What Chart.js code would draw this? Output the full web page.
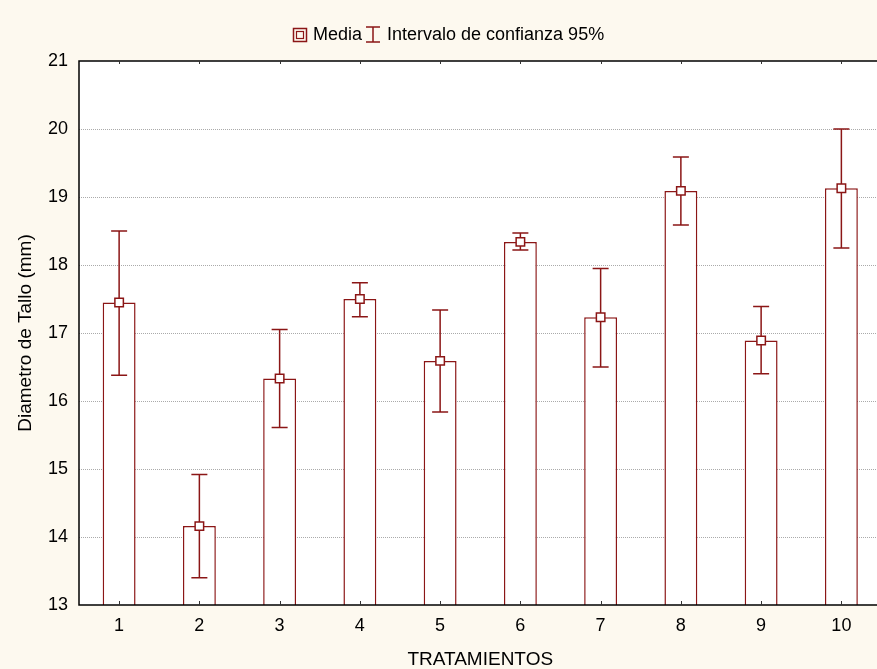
<!DOCTYPE html>
<html>
<head>
<meta charset="utf-8">
<script src="https://cdn.jsdelivr.net/npm/chart.js@4/dist/chart.umd.min.js"></script>
<style>
  html, body { margin: 0; padding: 0; overflow: hidden; background: #fdf9ef; }
  canvas { display: block; }
</style>
</head>
<body>
<canvas id="chart" width="889" height="669"></canvas>
<script>
// Data
const categories = ['1', '2', '3', '4', '5', '6', '7', '8', '9', '10'];
const means = [17.45, 14.16, 16.33, 17.50, 16.59, 18.34, 17.23, 19.09, 16.89, 19.13];
const ciLow = [16.38, 13.40, 15.61, 17.24, 15.84, 18.22, 16.50, 18.59, 16.40, 18.25];
const ciHigh = [18.50, 14.92, 17.05, 17.74, 17.34, 18.47, 17.95, 19.59, 17.39, 20.00];
const yTicks = [13, 14, 15, 16, 17, 18, 19, 20, 21];

const red = '#8b1616';
const font = "'Liberation Sans', Arial, sans-serif";

const chartPlugin = {
    id: 'chartPlugin',
    beforeDraw: function (chart) {
        const ctx = chart.ctx;
        const a = chart.chartArea;
        ctx.save();
        ctx.fillStyle = '#fdf9ef';
        ctx.fillRect(0, 0, chart.width, chart.height);
        ctx.fillStyle = '#ffffff';
        ctx.fillRect(a.left, a.top, a.right - a.left, a.bottom - a.top);
        ctx.restore();
    },
    // Error bars, drawn after the bars and before the mean markers
    afterDatasetDraw: function (chart, args) {
        if (args.meta.type !== 'bar') return;
        const ctx = chart.ctx;
        const x = chart.scales.x;
        const y = chart.scales.y;
        ctx.save();
        ctx.strokeStyle = red;
        ctx.lineWidth = 1.5;
        categories.forEach(function (c, i) {
            const px = x.getPixelForValue(i);
            const top = y.getPixelForValue(ciHigh[i]);
            const bot = y.getPixelForValue(ciLow[i]);
            ctx.beginPath();
            ctx.moveTo(px, top);
            ctx.lineTo(px, bot);
            ctx.moveTo(px - 8, top);
            ctx.lineTo(px + 8, top);
            ctx.moveTo(px - 8, bot);
            ctx.lineTo(px + 8, bot);
            ctx.stroke();
        });
        ctx.restore();
    },
    afterDraw: function (chart) {
        const ctx = chart.ctx;
        const a = chart.chartArea;
        const x = chart.scales.x;
        ctx.save();

        // Frame: top, left, bottom
        ctx.strokeStyle = '#000';
        ctx.lineWidth = 1.5;
        ctx.beginPath();
        ctx.moveTo(chart.width, a.top);
        ctx.lineTo(a.left, a.top);
        ctx.lineTo(a.left, a.bottom);
        ctx.lineTo(chart.width, a.bottom);
        ctx.stroke();

        // Small inner ticks at the categories
        ctx.strokeStyle = '#333';
        ctx.lineWidth = 1;
        categories.forEach(function (c, i) {
            const px = Math.round(x.getPixelForValue(i)) + 0.5;
            ctx.beginPath();
            ctx.moveTo(px, a.bottom);
            ctx.lineTo(px, a.bottom - 4);
            ctx.moveTo(px, a.top);
            ctx.lineTo(px, a.top + 3);
            ctx.stroke();
        });

        // Legend
        ctx.strokeStyle = red;
        ctx.lineWidth = 1.5;
        ctx.strokeRect(293.5, 28.5, 13, 13);
        ctx.lineWidth = 1.2;
        ctx.strokeRect(296.5, 31.5, 7, 7);
        ctx.lineWidth = 1.5;
        ctx.beginPath();
        ctx.moveTo(373, 27);
        ctx.lineTo(373, 42);
        ctx.moveTo(366, 27);
        ctx.lineTo(380, 27);
        ctx.moveTo(366, 42);
        ctx.lineTo(380, 42);
        ctx.stroke();

        ctx.fillStyle = '#000';
        ctx.font = '18px ' + font;
        ctx.textBaseline = 'middle';
        ctx.textAlign = 'left';
        ctx.fillText('Media', 313, 35);
        ctx.fillText('Intervalo de confianza 95%', 387, 35);
        ctx.restore();
    }
};

const ctx = document.getElementById('chart');
new Chart(ctx, {
    data: {
        labels: categories,
        datasets: [
            {
                type: 'line',
                label: 'Media',
                data: means,
                showLine: false,
                pointStyle: 'rect',
                pointRadius: 6,
                pointBorderWidth: 1.5,
                pointBackgroundColor: '#ffffff',
                pointBorderColor: red,
                order: 1
            },
            {
                type: 'bar',
                label: 'Barras',
                data: means,
                backgroundColor: '#ffffff',
                borderColor: red,
                borderWidth: 1.5,
                barPercentage: 0.41,
                categoryPercentage: 1,
                order: 2
            }
        ]
    },
    options: {
        responsive: false,
        animation: false,
        layout: {
            padding: { top: 61, left: 0, right: 2, bottom: 0 }
        },
        plugins: {
            legend: { display: false },
            tooltip: { enabled: false }
        },
        scales: {
            x: {
                grid: { display: false, drawTicks: true, tickLength: 8 },
                border: { display: false },
                ticks: {
                    color: '#000',
                    font: { family: font, size: 18 },
                    padding: 2,
                    maxRotation: 0
                },
                title: {
                    display: true,
                    text: 'TRATAMIENTOS',
                    color: '#000',
                    font: { family: font, size: 19, lineHeight: 1 },
                    padding: { top: 0, bottom: 0 }
                },
                afterFit: function (scale) {
                    scale.height = 64;
                }
            },
            y: {
                min: yTicks[0],
                max: yTicks[yTicks.length - 1],
                afterBuildTicks: function (scale) {
                    scale.ticks = yTicks.map(function (v) { return { value: v }; });
                },
                grid: {
                    drawTicks: false,
                    color: function (c) {
                        const v = c.tick ? c.tick.value : null;
                        return (v === 13 || v === 21) ? 'rgba(0,0,0,0)' : '#aaaaaa';
                    },
                    lineWidth: 1
                },
                border: { display: false, dash: [1, 1] },
                ticks: {
                    color: '#000',
                    font: { family: font, size: 18 },
                    padding: 11
                },
                title: {
                    display: true,
                    text: 'Diametro de Tallo (mm)',
                    color: '#000',
                    font: { family: font, size: 19, lineHeight: 1 },
                    padding: { top: 16.5, bottom: 0 }
                },
                afterFit: function (scale) {
                    scale.width = 79;
                }
            }
        }
    },
    plugins: [chartPlugin]
});
</script>
</body>
</html>
